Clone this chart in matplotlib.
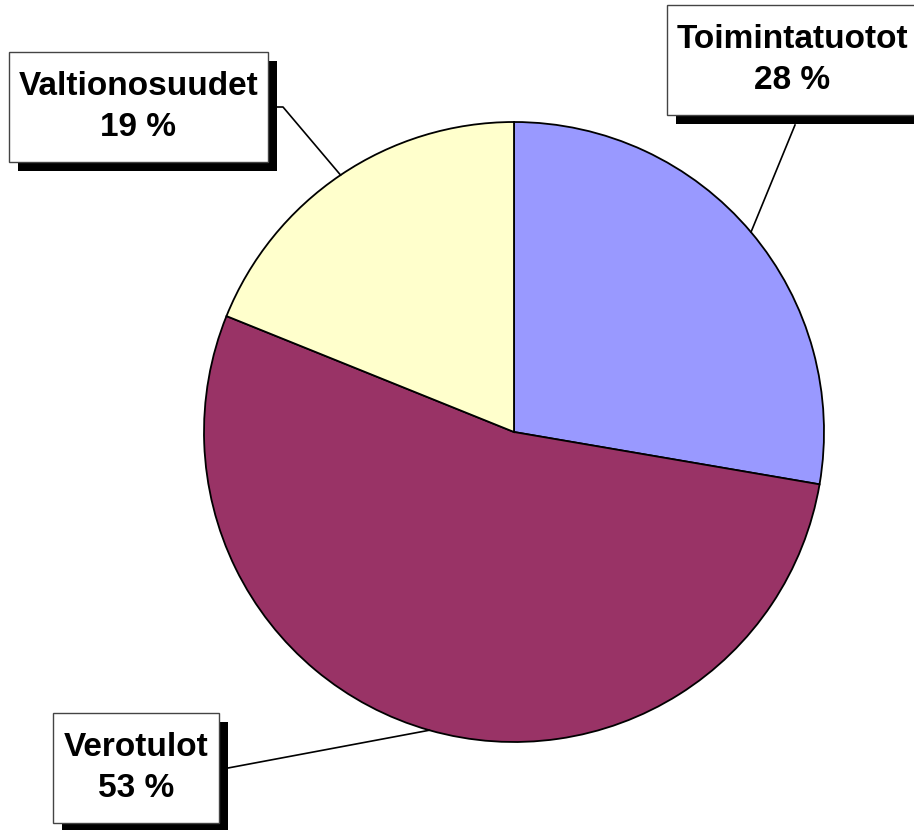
import numpy as np
import matplotlib.pyplot as plt
from matplotlib.patches import Rectangle

plt.rcParams['font.family'] = ['Liberation Sans', 'DejaVu Sans']

labels = ['Toimintatuotot', 'Verotulot', 'Valtionosuudet']
values = [27.7, 53.4, 18.9]
colors = ['#9999FF', '#993366', '#FFFFCC']

# label boxes in pixel space: (x0, y0_top, width, height), leader elbow points
boxes = {
    'Toimintatuotot': (667, 5, 260, 110),
    'Verotulot': (53, 713, 166, 110),
    'Valtionosuudet': (9, 52, 259, 110),
}
leader_start = {
    'Toimintatuotot': [(795, 125)],
    'Verotulot': [(228, 768)],
    'Valtionosuudet': [(268, 107), (283, 107)],
}

W, H = 914, 830
fig = plt.figure(figsize=(W / 100, H / 100), dpi=100)
ax = fig.add_axes([0, 0, 1, 1])

cx, cy, r = 514, H - 432, 310
wedges, _ = ax.pie(values, colors=colors, startangle=90, counterclock=False,
                   center=(cx, cy), radius=r, frame=True,
                   wedgeprops=dict(edgecolor='black', linewidth=1.3))
ax.set_xlim(0, W)
ax.set_ylim(0, H)
ax.set_aspect('equal')
ax.axis('off')

for w, lab, v in zip(wedges, labels, values):
    mid = np.deg2rad((w.theta1 + w.theta2) / 2)
    ex, ey = cx + r * np.cos(mid), cy + r * np.sin(mid)
    pts = [(x, H - y) for x, y in leader_start[lab]] + [(ex, ey)]
    xs, ys = zip(*pts)
    ax.plot(xs, ys, color='black', lw=1.2, zorder=3)

    x0, yt, bw, bh = boxes[lab]
    ax.add_patch(Rectangle((x0 + 9, H - yt - bh - 9), bw, bh,
                           facecolor='black', edgecolor='none', zorder=4))
    ax.add_patch(Rectangle((x0, H - yt - bh), bw, bh,
                           facecolor='white', edgecolor='#444444', lw=1, zorder=5))
    tx = x0 + bw / 2 if lab != 'Toimintatuotot' else 792
    ax.text(tx, H - yt - bh / 2, f'{lab}\n{v:.0f} %', ha='center', va='center',
            fontsize=24, fontweight='bold', linespacing=1.4, zorder=6)

fig.savefig('out.png', dpi=100)
